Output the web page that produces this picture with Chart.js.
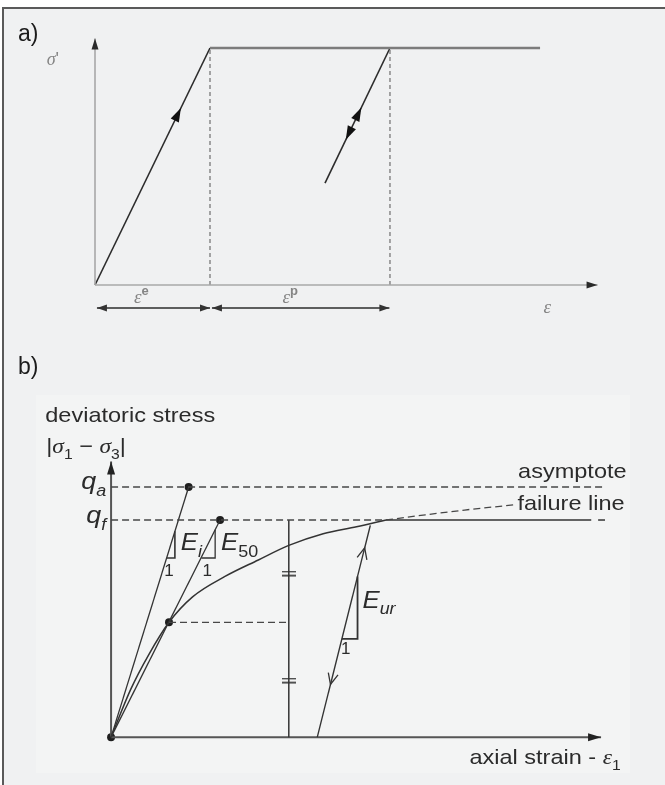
<!DOCTYPE html>
<html>
<head>
<meta charset="utf-8">
<script src="https://cdn.jsdelivr.net/npm/chart.js@4.4.1/dist/chart.umd.min.js"></script>
<style>
  body { margin: 0; width: 665px; height: 785px; overflow: hidden; background: #fff; }
  #sheet { position: absolute; left: 2px; top: 7px; width: 700px; height: 800px;
           border-top: 2px solid #5a5a5a; border-left: 2px solid #5a5a5a; background: #f0f1f2; }
  #panelB { position: absolute; left: 36px; top: 395px; width: 594px; height: 378px; background: #f3f4f4; }
  canvas { position: absolute; left: 0; }
  #chartA { top: 0; }
  #chartB { top: 330px; }
</style>
</head>
<body>
<div id="sheet"></div>
<div id="panelB"></div>
<canvas id="chartA" width="665" height="330"></canvas>
<canvas id="chartB" width="665" height="455"></canvas>

<script>
// ---- panel a) : elastic / perfectly plastic (strain in units of yield strain, stress in units of yield stress)
const aElasticX = [0, 1];
const aElasticY = [0, 1];
const aPlateauX = [1, 3.87];
const aPlateauY = [1, 1];
const aUnloadX = [2.565, 2.0];
const aUnloadY = [1, 0.43];
const aGuideX = [1, 2.565];          // end of eps_e, end of eps_p
const aDimY = -0.097;                // level of the dimension arrows
const aAxisEnd = [4.37, 1.04];       // x axis end, y axis end

// ---- panel b) : hyperbolic stress-strain (q normalised by q_f)
const qAsym = 1.152;
const qFail = 1;
const curveX = [0, 0.20, 0.38, 0.59, 0.83, 1.16, 1.50, 1.81, 2.16, 2.50, 2.80];
const curveQ = [0, 0.22, 0.377, 0.529, 0.646, 0.74, 0.816, 0.883, 0.937, 0.969, 1.0];
const extX = [2.80, 3.20, 3.60, 4.10];
const extQ = [1.0, 1.024, 1.046, 1.07];
const failEnd = 4.89;
const asymEnd = 5.03;
const eiEnd = [0.79, 1.152];
const e50End = [1.11, 1];
const halfPt = [0.59, 0.529];
const guideX = 1.81;
const equalQ = [0.26, 0.753];
const unloadX = [2.10, 2.64];
const unloadQ = [0, 0.975];
const triEiX = [0.566, 0.65, 0.65],  triEiQ = [0.825, 0.825, 0.948];
const triE50X = [0.92, 1.06, 1.06],  triE50Q = [0.825, 0.825, 0.955];
const triUrX = [2.35, 2.51, 2.51],   triUrQ = [0.453, 0.453, 0.74];
const bAxisEnd = [4.99, 1.269];

const INK = '#333';
const TXT = '#2b2b2b';
const SANS = '"Liberation Sans", Arial, sans-serif';
const SERIF = '"Liberation Serif", "DejaVu Serif", serif';

function pts(xs, ys) { return xs.map((x, i) => ({ x: x, y: ys[i] })); }
function seg(xs, ys, extra) {
  return Object.assign({ data: pts(xs, ys), showLine: true, borderColor: INK, borderWidth: 1.4,
    pointRadius: 0, pointHoverRadius: 0, fill: false, tension: 0 }, extra || {});
}

// arrow heads drawn on top of the line datasets
function drawHead(ctx, x, y, ang, a) {
  ctx.save();
  ctx.translate(x, y);
  ctx.rotate(ang);
  ctx.beginPath();
  if (a.open) {
    ctx.moveTo(-a.len, -a.wid / 2); ctx.lineTo(0, 0); ctx.lineTo(-a.len, a.wid / 2);
    ctx.strokeStyle = a.color || INK; ctx.lineWidth = 1.3; ctx.stroke();
  } else {
    ctx.moveTo(0, 0); ctx.lineTo(-a.len, -a.wid / 2); ctx.lineTo(-a.len, a.wid / 2); ctx.closePath();
    ctx.fillStyle = a.color || INK; ctx.fill();
  }
  ctx.restore();
}
const arrowPlugin = {
  id: 'arrowHeads',
  afterDatasetsDraw(chart) {
    const ctx = chart.ctx;
    chart.data.datasets.forEach((ds, i) => {
      if (!ds.arrows) return;
      const el = chart.getDatasetMeta(i).data;
      const p0 = el[0], p1 = el[el.length - 1];
      ds.arrows.forEach(a => {
        const x = p0.x + (p1.x - p0.x) * a.at, y = p0.y + (p1.y - p0.y) * a.at;
        let ang = Math.atan2(p1.y - p0.y, p1.x - p0.x);
        if (a.dir < 0) ang += Math.PI;
        drawHead(ctx, x, y, ang, a);
      });
    });
  }
};

// text with sub / superscripts
function drawRich(ctx, x, y, parts, o) {
  const size = o.size;
  const fontOf = p => (p.it ? 'italic ' : '') + (p.bold ? 'bold ' : '') +
    Math.round((p.sub || p.sup) ? size * 0.68 : size) + 'px ' + (p.serif ? SERIF : SANS);
  ctx.save();
  ctx.translate(x, y);
  ctx.scale(o.sx || 1, 1);
  ctx.fillStyle = o.color || TXT;
  ctx.textBaseline = 'alphabetic';
  let w = 0;
  parts.forEach(p => { ctx.font = fontOf(p); w += ctx.measureText(p.t).width; });
  let cx = o.align === 'right' ? -w : o.align === 'center' ? -w / 2 : 0;
  parts.forEach(p => {
    ctx.font = fontOf(p);
    const dy = p.sub ? size * 0.28 : p.sup ? -size * 0.42 : 0;
    ctx.fillText(p.t, cx, dy);
    cx += ctx.measureText(p.t).width;
  });
  ctx.restore();
}
function textPlugin(items) {
  return {
    id: 'texts',
    afterDraw(chart) {
      const sx = chart.scales.x, sy = chart.scales.y;
      items.forEach(it => {
        const x = it.px ? it.x : sx.getPixelForValue(it.x);
        const y = it.px ? it.y : sy.getPixelForValue(it.y);
        drawRich(chart.ctx, x, y, it.parts, it);
      });
    }
  };
}

function baseOptions(origin, unit, w, h) {
  return {
    responsive: false,
    animation: false,
    layout: { padding: 0 },
    plugins: { legend: { display: false }, tooltip: { enabled: false } },
    events: [],
    scales: {
      x: { type: 'linear', display: false, min: -origin.x / unit.x, max: (w - origin.x) / unit.x },
      y: { type: 'linear', display: false, min: -(h - origin.y) / unit.y, max: origin.y / unit.y }
    }
  };
}

// ---------- chart a)
const GREY_TXT = '#858585';
new Chart(document.getElementById('chartA'), {
  type: 'scatter',
  data: {
    datasets: [
      seg([0, aAxisEnd[0]], [0, 0], { borderColor: '#a8a8a8', borderWidth: 1.6,
        arrows: [{ at: 1, dir: 1, len: 11, wid: 7, color: '#2a2a2a' }] }),
      seg([0, 0], [0, aAxisEnd[1]], { borderColor: '#a8a8a8', borderWidth: 1.6,
        arrows: [{ at: 1, dir: 1, len: 11, wid: 7, color: '#2a2a2a' }] }),
      seg([aGuideX[0], aGuideX[0]], [0, 1], { borderColor: '#6e6e6e', borderWidth: 1.2, borderDash: [4, 3] }),
      seg([aGuideX[1], aGuideX[1]], [0, 1], { borderColor: '#6e6e6e', borderWidth: 1.2, borderDash: [4, 3] }),
      seg(aPlateauX, aPlateauY, { borderColor: '#7c7c7c', borderWidth: 2.6 }),
      seg(aElasticX, aElasticY, { borderColor: '#2c2c2c', borderWidth: 1.6,
        arrows: [{ at: 0.747, dir: 1, len: 14, wid: 9, color: '#111' }] }),
      seg(aUnloadX, aUnloadY, { borderColor: '#2c2c2c', borderWidth: 1.6,
        arrows: [{ at: 0.44, dir: -1, len: 14, wid: 9, color: '#111' },
                 { at: 0.68, dir: 1, len: 14, wid: 9, color: '#111' }] }),
      seg([0.017, 1.0], [aDimY, aDimY], { borderColor: '#2c2c2c', borderWidth: 1.4,
        arrows: [{ at: 0, dir: -1, len: 10, wid: 7 }, { at: 1, dir: 1, len: 10, wid: 7 }] }),
      seg([1.017, 2.56], [aDimY, aDimY], { borderColor: '#2c2c2c', borderWidth: 1.4,
        arrows: [{ at: 0, dir: -1, len: 10, wid: 7 }, { at: 1, dir: 1, len: 10, wid: 7 }] })
    ]
  },
  options: baseOptions({ x: 95, y: 285 }, { x: 115, y: 237 }, 665, 330),
  plugins: [arrowPlugin, textPlugin([
    { px: true, x: 18, y: 41, size: 23, color: '#1c1c1c', parts: [{ t: 'a)' }] },
    { x: -0.42, y: 0.93, size: 18, color: GREY_TXT, parts: [{ t: 'σ', it: true, serif: true }, { t: "'" }] },
    { x: 0.34, y: -0.075, size: 19, color: GREY_TXT, parts: [{ t: 'ε', it: true, serif: true }, { t: 'e', sup: true, bold: true }] },
    { x: 1.63, y: -0.075, size: 19, color: GREY_TXT, parts: [{ t: 'ε', it: true, serif: true }, { t: 'p', sup: true, bold: true }] },
    { x: 3.9, y: -0.12, size: 19, color: GREY_TXT, parts: [{ t: 'ε', it: true, serif: true }] }
  ])]
});

// ---------- chart b)
const eqMark = document.createElement('canvas');
eqMark.width = 14; eqMark.height = 6;
(function () {
  const c = eqMark.getContext('2d');
  c.fillStyle = INK;
  c.fillRect(0, 0, 14, 1.5);
  c.fillRect(0, 4, 14, 1.5);
})();

const DASH_B = { borderColor: '#474747', borderWidth: 1.3, borderDash: [7, 4] };
const SX = 1.12;
new Chart(document.getElementById('chartB'), {
  type: 'scatter',
  data: {
    datasets: [
      seg([0, asymEnd], [qAsym, qAsym], DASH_B),
      seg([0, curveX[curveX.length - 1]], [qFail, qFail], DASH_B),
      seg(extX, extQ, DASH_B),
      seg([curveX[curveX.length - 1], failEnd], [qFail, qFail], { borderWidth: 1.5 }),
      seg([failEnd + 0.07, asymEnd], [qFail, qFail], { borderWidth: 1.5 }),
      seg([halfPt[0], guideX], [halfPt[1], halfPt[1]], DASH_B),
      seg([guideX, guideX], [0, qFail], { borderWidth: 1.5 }),
      seg(curveX, curveQ, { cubicInterpolationMode: 'monotone', borderWidth: 1.5 }),
      seg([0, eiEnd[0]], [0, eiEnd[1]], { borderWidth: 1.3 }),
      seg([0, e50End[0]], [0, e50End[1]], { borderWidth: 1.3 }),
      seg(unloadX, unloadQ, { borderWidth: 1.4,
        arrows: [{ at: 0.894, dir: 1, len: 11, wid: 10, open: true },
                 { at: 0.249, dir: -1, len: 11, wid: 10, open: true }] }),
      seg(triEiX, triEiQ, { borderWidth: 1.6 }),
      seg(triE50X, triE50Q, { borderWidth: 1.3 }),
      seg(triUrX, triUrQ, { borderWidth: 1.8 }),
      { data: equalQ.map(q => ({ x: guideX, y: q })), pointStyle: eqMark, pointRadius: 5, showLine: false },
      seg([0, bAxisEnd[0]], [0, 0], { borderColor: '#555', borderWidth: 2,
        arrows: [{ at: 1, dir: 1, len: 13, wid: 8, color: '#222' }] }),
      seg([0, 0], [0, bAxisEnd[1]], { borderColor: '#555', borderWidth: 2,
        arrows: [{ at: 1, dir: 1, len: 13, wid: 8, color: '#222' }] }),
      { data: [{ x: 0, y: 0 }, { x: eiEnd[0], y: eiEnd[1] }, { x: e50End[0], y: e50End[1] }, { x: halfPt[0], y: halfPt[1] }],
        showLine: false, pointRadius: 4, pointBackgroundColor: '#1e1e1e', pointBorderWidth: 0 }
    ]
  },
  options: baseOptions({ x: 107, y: 412 }, { x: 100, y: 223 }, 665, 455),
  plugins: [arrowPlugin, textPlugin([
    { px: true, x: 18, y: 44, size: 23, color: '#1c1c1c', parts: [{ t: 'b)' }] },
    { x: -0.67, y: 1.453, size: 21, sx: SX, parts: [{ t: 'deviatoric stress' }] },
    { x: -0.66, y: 1.309, size: 21, sx: SX, parts: [{ t: '|' }, { t: 'σ', it: true, serif: true }, { t: '1', sub: true },
      { t: ' − ' }, { t: 'σ', it: true, serif: true }, { t: '3', sub: true }, { t: '|' }] },
    { x: -0.05, y: 1.143, size: 24, sx: SX, align: 'right', parts: [{ t: 'q', it: true }, { t: 'a', it: true, sub: true }] },
    { x: -0.05, y: 0.987, size: 24, sx: SX, align: 'right', parts: [{ t: 'q', it: true }, { t: 'f', it: true, sub: true }] },
    { x: 5.25, y: 1.193, size: 21, sx: SX, align: 'right', parts: [{ t: 'asymptote' }] },
    { x: 5.23, y: 1.045, size: 21, sx: SX, align: 'right', parts: [{ t: 'failure line' }] },
    { x: 5.19, y: -0.126, size: 21, sx: SX, align: 'right', parts: [{ t: 'axial strain - ' }, { t: 'ε', it: true, serif: true }, { t: '1', sub: true }] },
    { x: 0.71, y: 0.861, size: 23, sx: SX, parts: [{ t: 'E', it: true }, { t: 'i', it: true, sub: true }] },
    { x: 1.12, y: 0.861, size: 23, sx: SX, parts: [{ t: 'E', it: true }, { t: '50', sub: true }] },
    { x: 2.56, y: 0.596, size: 23, sx: SX, parts: [{ t: 'E', it: true }, { t: 'ur', it: true, sub: true }] },
    { x: 0.59, y: 0.74, size: 17, align: 'center', parts: [{ t: '1' }] },
    { x: 0.98, y: 0.74, size: 17, align: 'center', parts: [{ t: '1' }] },
    { x: 2.39, y: 0.381, size: 17, align: 'center', parts: [{ t: '1' }] }
  ])]
});
</script>
</body>
</html>
